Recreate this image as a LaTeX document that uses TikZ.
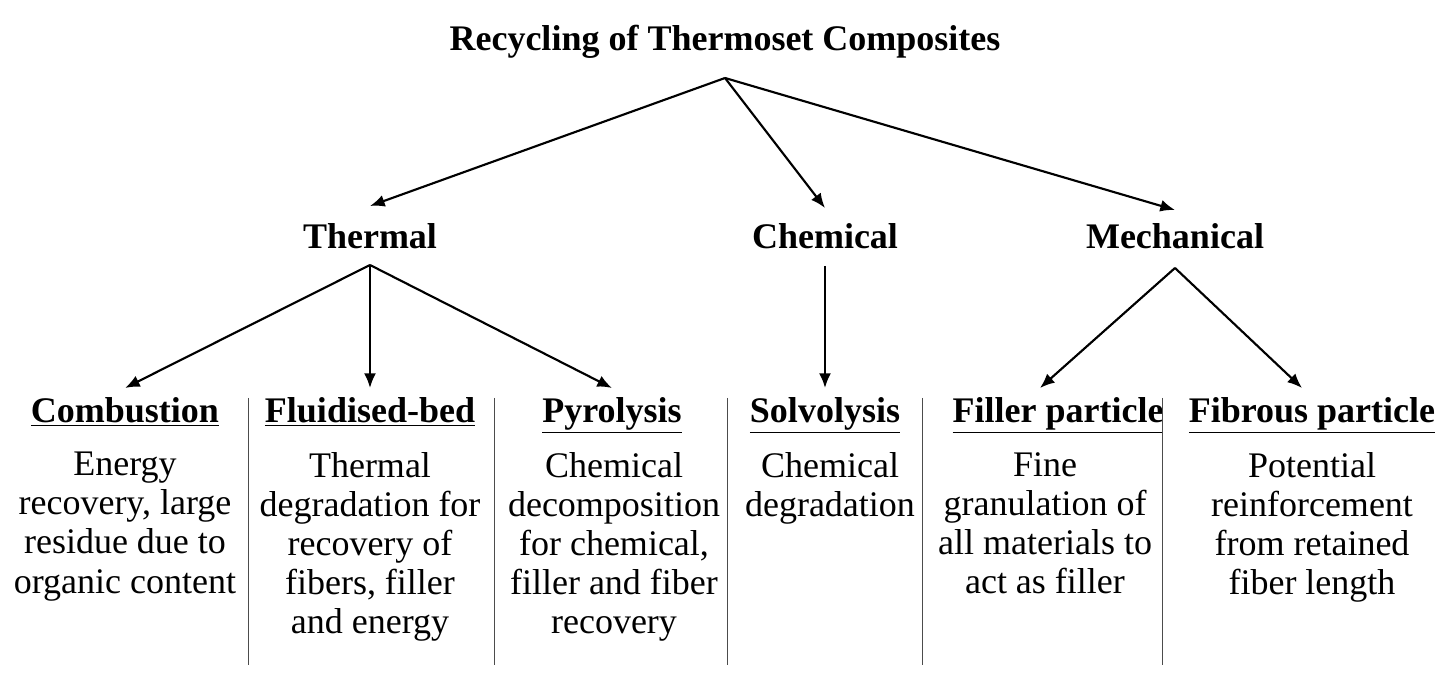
\documentclass[tikz,border=0pt]{standalone}
\usepackage{fontspec}
\setmainfont{Liberation Serif}
\usetikzlibrary{arrows.meta}
\begin{document}
\begin{tikzpicture}[x=0.75pt,y=-0.75pt,
 hd/.style={font=\fontsize{27}{30}\selectfont\bfseries,inner sep=2pt},
 hb/.style={hd,anchor=base},
 ds/.style={font=\fontsize{27}{29.3}\selectfont,align=center,anchor=north,inner sep=0pt},
 ar/.style={-{Latex[length=11pt,width=9pt]},line width=1.6pt},
 dv/.style={line width=0.6pt,black!70}]
\useasboundingbox (0,0) rectangle (1443,698);
\clip (0,0) rectangle (1443,698);
\node[hd] (t) at (725,42) {Recycling of Thermoset Composites};
\coordinate (ts) at (725,78);
\node[hd] (th) at (370,236) {Thermal};
\node[hd] (ch) at (825,236) {Chemical};
\node[hd] (me) at (1175,236) {Mechanical};
\coordinate (a1) at (370,206); \coordinate (a2) at (825,208); \coordinate (a3) at (1175,210);
\draw[ar] (ts) -- (a1); \draw[ar] (ts) -- (a2); \draw[ar] (ts) -- (a3);
\coordinate (ths) at (370,265); \coordinate (chs) at (825,266); \coordinate (mes) at (1175,268);
\node[hb] (c1) at (125,423) {\underline{Combustion}};
\node[hb] (c2) at (370,423) {\underline{Fluidised-bed}};
\node[hb] (c3) at (612,423) {\underline{Pyrolysis}};
\node[hb] (c4) at (825,423) {\underline{Solvolysis}};
\node[hb] (c5) at (1058,423) {\underline{Filler particle}};
\node[hb] (c6) at (1312,423) {\underline{Fibrous particle}};
\coordinate (b1) at (125,388); \coordinate (b2) at (370,388); \coordinate (b3) at (612,388);
\coordinate (b4) at (825,388); \coordinate (b5) at (1040,388); \coordinate (b6) at (1302,388);
\draw[ar] (ths) -- (b1); \draw[ar] (ths) -- (b2); \draw[ar] (ths) -- (b3);
\draw[ar] (chs) -- (b4); \draw[ar] (mes) -- (b5); \draw[ar] (mes) -- (b6);
\node[ds] (d1) at (125,452) {Energy\\recovery, large\\residue due to\\organic content};
\node[ds] (d2) at (370,452) {Thermal\\degradation for\\recovery of\\fibers, filler\\and energy};
\node[ds] (d3) at (614,452) {Chemical\\decomposition\\for chemical,\\filler and fiber\\recovery};
\node[ds] (d4) at (830,452) {Chemical\\degradation};
\node[ds] (d5) at (1045,452) {Fine\\granulation of\\all materials to\\act as filler};
\node[ds] (d6) at (1312,452) {Potential\\reinforcement\\from retained\\fiber length};
\foreach \x in {248,494,727,922,1162} \draw[dv] (\x,398) -- (\x,665);
\end{tikzpicture}
\end{document}
